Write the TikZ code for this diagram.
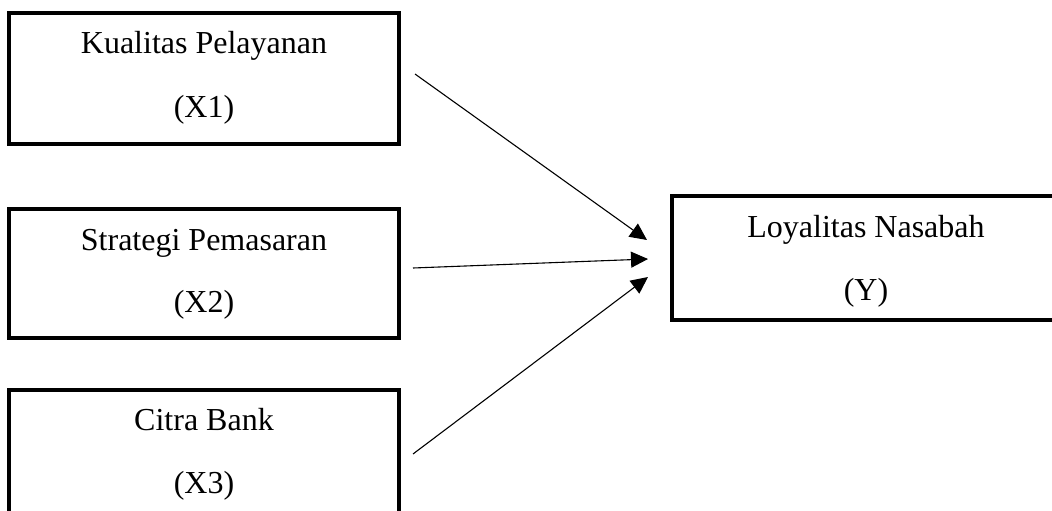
\documentclass[tikz,border=0pt]{standalone}
\usepackage{fontspec}
\setmainfont{Liberation Serif}
\usetikzlibrary{arrows.meta}
\begin{document}
\begin{tikzpicture}[x=1pt,y=-1pt,
  box/.style={draw=black,line width=3.2pt,inner sep=0pt,fill=none},
  lbl/.style={anchor=base,inner sep=0pt,font=\fontsize{32}{38}\selectfont},
  conn/.style={line width=1.1pt,-{Triangle[length=17pt,width=16pt]}}]
\useasboundingbox (0,0) rectangle (1052,511);
\clip (0,0) rectangle (1052,511);
\fill[white] (0,0) rectangle (1052,511);
% boxes
\node[box,minimum width=390pt,minimum height=131pt] (bx1) at (204,78.5) {};
\node[box,minimum width=390pt,minimum height=129pt] (bx2) at (204,273.5) {};
\node[box,minimum width=390pt,minimum height=140pt] (bx3) at (204,460) {};
\node[box,minimum width=390pt,minimum height=124pt] (by) at (867,258) {};
% labels
\node[lbl] (t1a) at (204,54) {Kualitas Pelayanan};
\node[lbl] (t1b) at (204,117) {(X1)};
\node[lbl] (t2a) at (204,250) {Strategi Pemasaran};
\node[lbl] (t2b) at (204,312) {(X2)};
\node[lbl] (t3a) at (204,430) {Citra Bank};
\node[lbl] (t3b) at (204,493) {(X3)};
\node[lbl] (tya) at (866,237) {Loyalitas Nasabah};
\node[lbl] (tyb) at (866,300) {(Y)};
% connector ends
\coordinate (s1) at (415,74);
\coordinate (s2) at (413,268);
\coordinate (s3) at (413,454);
\coordinate (e1) at (647,240);
\coordinate (e2) at (648,259);
\coordinate (e3) at (648,277);
\draw[conn] (s1) -- (e1);
\draw[conn] (s2) -- (e2);
\draw[conn] (s3) -- (e3);
\end{tikzpicture}
\end{document}
